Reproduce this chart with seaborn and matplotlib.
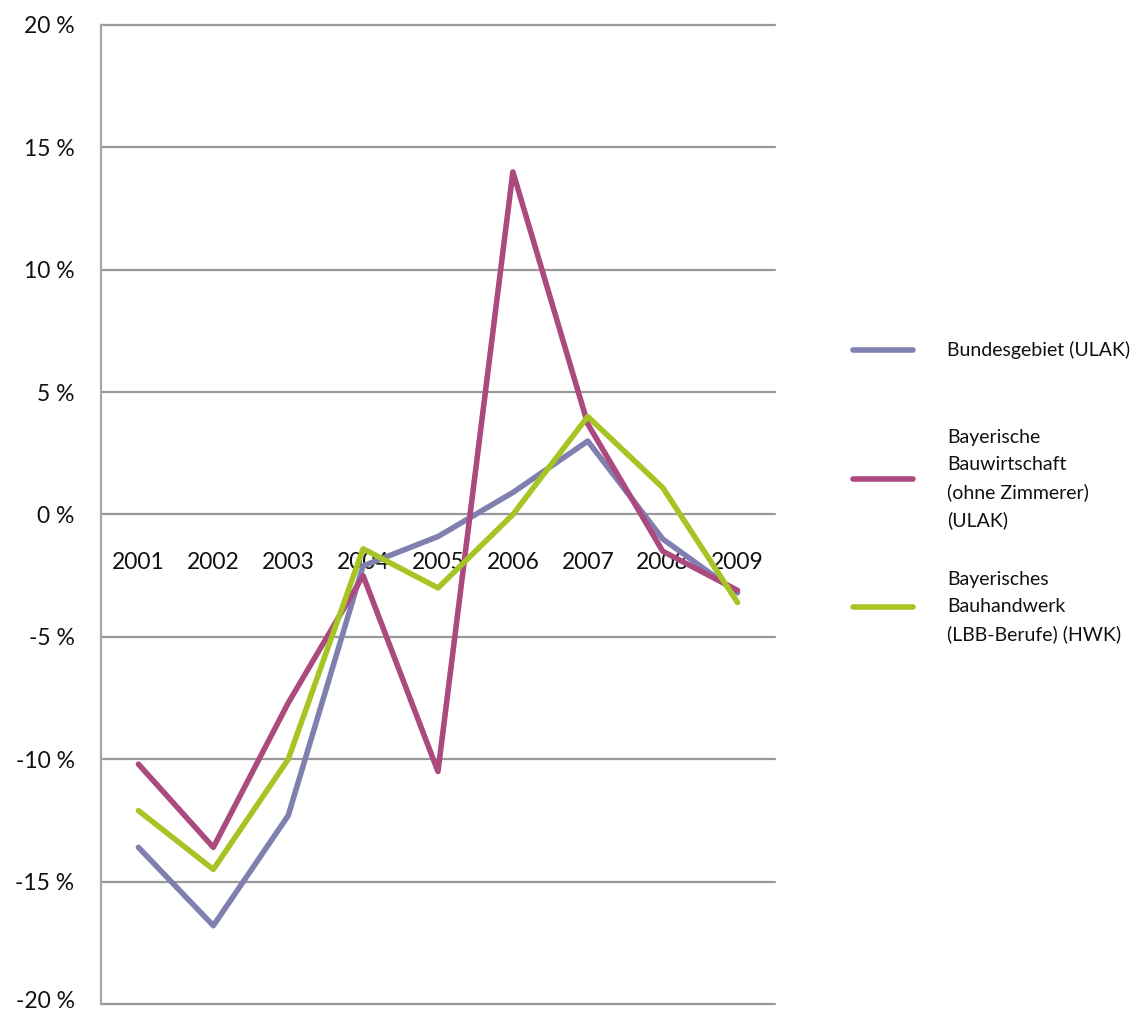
import matplotlib
matplotlib.use("Agg")
import matplotlib.pyplot as plt
import matplotlib.transforms as mtransforms
from matplotlib.lines import Line2D
import seaborn as sns
import pandas as pd

years = ["2001", "2002", "2003", "2004", "2005", "2006", "2007", "2008", "2009"]
bundesgebiet = [-13.6, -16.8, -12.3, -2.1, -0.9, 0.9, 3.0, -1.0, -3.2]
bauwirtschaft = [-10.2, -13.6, -7.7, -2.5, -10.5, 14.0, 3.7, -1.5, -3.1]
bauhandwerk = [-12.1, -14.5, -10.0, -1.4, -3.0, 0.0, 4.0, 1.1, -3.6]

series_names = [
    "Bundesgebiet (ULAK)",
    "Bayerische\nBauwirtschaft\n(ohne Zimmerer)\n(ULAK)",
    "Bayerisches\nBauhandwerk\n(LBB-Berufe) (HWK)",
]
colors = ["#7f7fb0", "#aa4a7e", "#a6c423"]
y_ticks = [-20, -15, -10, -5, 0, 5, 10, 15, 20]
y_tick_labels = ["-20 %", "-15 %", "-10 %", "-5 %", "0 %", "5 %", "10 %", "15 %", "20 %"]

df = pd.DataFrame({
    "Jahr": years * 3,
    "Wert": bundesgebiet + bauwirtschaft + bauhandwerk,
    "Reihe": [series_names[0]] * 9 + [series_names[1]] * 9 + [series_names[2]] * 9,
})

sns.set_theme(style="white")
plt.rcParams["font.family"] = ["Lato", "DejaVu Sans"]

fig = plt.figure(figsize=(11.37, 10.14), dpi=100)
ax = fig.add_axes([101 / 1137, 1 - 1004 / 1014, (775 - 101) / 1137, (1004 - 25) / 1014])

sns.lineplot(data=df, x="Jahr", y="Wert", hue="Reihe", palette=colors,
             hue_order=series_names, sort=False, linewidth=4.0,
             legend=False, ax=ax, zorder=3)

ax.set_xlim(-0.5, 8.5)
ax.set_ylim(-20, 20)
ax.set_yticks(y_ticks)
ax.set_yticklabels(y_tick_labels, fontsize=16.5, color="#111111")
ax.set_xlabel("")
ax.set_ylabel("")

ax.yaxis.grid(True, color="#999999", linewidth=1.6)
ax.xaxis.grid(False)
for gl in ax.get_ygridlines():
    gl.set_clip_on(False)

for s in ["top", "right"]:
    ax.spines[s].set_visible(False)
ax.spines["left"].set_color("#a6a6a6")
ax.spines["left"].set_linewidth(1.6)
ax.spines["bottom"].set_position(("data", 0))
ax.spines["bottom"].set_visible(False)
ax.tick_params(axis="y", length=0, pad=19)
ax.tick_params(axis="x", length=0, pad=27, labelsize=16.5, labelcolor="#111111")
for lbl in ax.get_xticklabels():
    lbl.set_zorder(5)

# keep the lowest percentage label inside the figure edge
bottom_label = ax.get_yticklabels()[0]
bottom_label.set_transform(bottom_label.get_transform()
                           + mtransforms.ScaledTranslation(0, 4 / 100, fig.dpi_scale_trans))

# legend drawn beside the plot area
legend_centers = [350, 479, 607]
for name, color, yc in zip(series_names, colors, legend_centers):
    yf = 1 - yc / 1014
    fig.add_artist(Line2D([853 / 1137, 913 / 1137], [yf, yf], color=color,
                          linewidth=4.0, solid_capstyle="round"))
    fig.text(947 / 1137, yf, name, ha="left", va="center", fontsize=14,
             color="#111111", linespacing=1.7)

fig.savefig("out.png", dpi=100)
